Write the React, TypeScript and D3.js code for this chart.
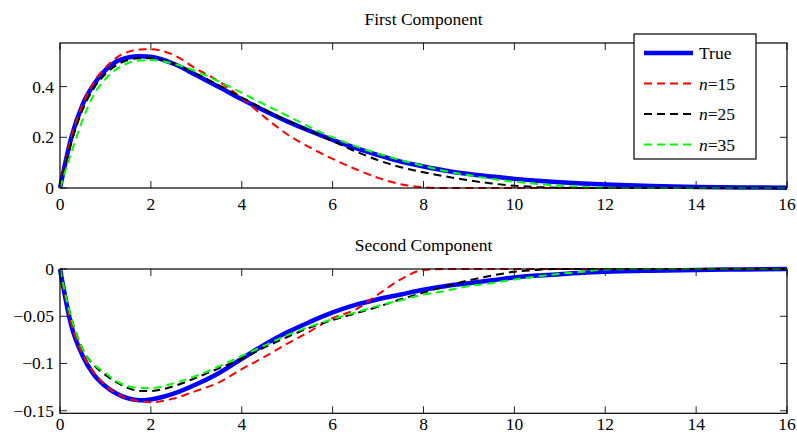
import React, { useEffect, useRef } from "react";
import * as d3 from "d3";

// sample times used for every series
const tGrid = [0, 0.25, 0.5, 0.75, 1, 1.25, 1.5, 1.75, 2, 2.5, 3, 3.5, 4, 4.5, 5, 5.5, 6, 6.5, 7, 7.5, 8, 8.5, 9, 9.5, 10, 10.5, 11, 11.5, 12, 13, 14, 15, 16];

// first component
const firstTrue = [0, 0.2, 0.33, 0.41, 0.465, 0.5, 0.515, 0.52, 0.518, 0.49, 0.445, 0.398, 0.35, 0.305, 0.263, 0.225, 0.19, 0.158, 0.13, 0.104, 0.085, 0.068, 0.055, 0.045, 0.036, 0.029, 0.023, 0.018, 0.014, 0.008, 0.004, 0.002, 0.001];
const firstN15 = [0, 0.2, 0.33, 0.42, 0.475, 0.515, 0.537, 0.546, 0.547, 0.525, 0.47, 0.42, 0.355, 0.28, 0.212, 0.16, 0.115, 0.075, 0.04, 0.015, 0.003, 0, 0, 0, 0, 0, 0, 0, 0, 0, 0, 0, 0];
const firstN25 = [0, 0.18, 0.31, 0.395, 0.45, 0.485, 0.505, 0.512, 0.512, 0.49, 0.45, 0.405, 0.357, 0.31, 0.265, 0.225, 0.185, 0.145, 0.11, 0.082, 0.062, 0.045, 0.03, 0.018, 0.009, 0.004, 0.001, 0, 0, 0, 0, 0, 0];
const firstN35 = [0, 0.14, 0.27, 0.37, 0.43, 0.47, 0.493, 0.503, 0.505, 0.49, 0.46, 0.42, 0.375, 0.33, 0.285, 0.24, 0.2, 0.165, 0.135, 0.11, 0.087, 0.066, 0.05, 0.036, 0.025, 0.016, 0.009, 0.004, 0.001, 0, 0, 0, 0];

// second component
const secondTrue = [0, -0.06, -0.092, -0.112, -0.124, -0.132, -0.137, -0.139, -0.138, -0.132, -0.122, -0.11, -0.095, -0.08, -0.067, -0.056, -0.046, -0.038, -0.032, -0.027, -0.022, -0.018, -0.015, -0.012, -0.009, -0.007, -0.0055, -0.004, -0.003, -0.0018, -0.001, -0.0005, 0];
const secondN15 = [0, -0.058, -0.09, -0.11, -0.123, -0.132, -0.137, -0.14, -0.141, -0.137, -0.129, -0.12, -0.106, -0.093, -0.079, -0.066, -0.052, -0.043, -0.027, -0.011, -0.001, 0, 0, 0, 0, 0, 0, 0, 0, 0, 0, 0, 0];
const secondN25 = [0, -0.052, -0.085, -0.102, -0.112, -0.12, -0.126, -0.129, -0.129, -0.124, -0.115, -0.105, -0.095, -0.083, -0.072, -0.062, -0.054, -0.047, -0.04, -0.032, -0.025, -0.018, -0.012, -0.007, -0.003, -0.001, 0, 0, 0, 0, 0, 0, 0];
const secondN35 = [0, -0.052, -0.085, -0.101, -0.11, -0.119, -0.124, -0.126, -0.126, -0.121, -0.113, -0.103, -0.092, -0.081, -0.07, -0.061, -0.053, -0.046, -0.039, -0.033, -0.027, -0.023, -0.018, -0.015, -0.011, -0.008, -0.005, -0.003, -0.0005, 0, 0, 0, 0];

const xTicks = [0, 2, 4, 6, 8, 10, 12, 14, 16];
const firstYTicks = [0, 0.2, 0.4];
const secondYTicks = [0, -0.05, -0.1, -0.15];
const seriesNames = ["True", "15", "25", "35"];
const seriesColors = ["#0000ff", "#ff0000", "#000000", "#00ff00"];

const font = "'Liberation Serif', 'Times New Roman', serif";
const fontSize = 17.5;

export default function App() {
  const ref = useRef<SVGSVGElement>(null);

  useEffect(() => {
    const svg = d3.select(ref.current);
    svg.selectAll("*").remove();

    const left = 60, right = 787;
    const x = d3.scaleLinear().domain([0, 16]).range([left, right]);

    const panels = [
      { title: "First Component", titleY: 25, top: 43, bottom: 188, domain: [0, 0.572], ticks: firstYTicks, series: [firstTrue, firstN15, firstN25, firstN35], fmt: (v: number) => (v === 0 ? "0" : String(v)) },
      { title: "Second Component", titleY: 251, top: 269, bottom: 413.3, domain: [-0.1527, 0], ticks: secondYTicks, series: [secondTrue, secondN15, secondN25, secondN35], fmt: (v: number) => (v === 0 ? "0" : "\u2212" + String(Math.abs(v))) },
    ];

    panels.forEach(p => {
      const y = d3.scaleLinear().domain(p.domain).range([p.bottom, p.top]);
      const g = svg.append("g").attr("font-family", font).attr("font-size", fontSize);

      g.append("text")
        .attr("x", (left + right) / 2)
        .attr("y", p.titleY)
        .attr("text-anchor", "middle")
        .text(p.title);

      // x ticks, inward on bottom and top
      xTicks.forEach(t => {
        g.append("line").attr("x1", x(t)).attr("x2", x(t)).attr("y1", p.bottom).attr("y2", p.bottom - 7).attr("stroke", "#222");
        g.append("line").attr("x1", x(t)).attr("x2", x(t)).attr("y1", p.top).attr("y2", p.top + 7).attr("stroke", "#222");
        g.append("text")
          .attr("x", x(t))
          .attr("y", Math.min(p.bottom + 22, 430))
          .attr("text-anchor", "middle")
          .text(String(t));
      });

      p.ticks.forEach(v => {
        g.append("line").attr("x1", left).attr("x2", left + 7).attr("y1", y(v)).attr("y2", y(v)).attr("stroke", "#222");
        g.append("line").attr("x1", right).attr("x2", right - 7).attr("y1", y(v)).attr("y2", y(v)).attr("stroke", "#222");
        g.append("text")
          .attr("x", left - 6)
          .attr("y", y(v) + 6)
          .attr("text-anchor", "end")
          .text(p.fmt(v));
      });

      const line = d3.line<number>()
        .x((d, i) => x(tGrid[i]))
        .y(d => y(d))
        .curve(d3.curveMonotoneX);

      p.series.forEach((s, k) => {
        g.append("path")
          .attr("d", line(s))
          .attr("fill", "none")
          .attr("stroke", seriesColors[k])
          .attr("stroke-width", k === 0 ? 4.5 : 2)
          .attr("stroke-dasharray", k === 0 ? null : "8,5");
      });

      g.append("rect")
        .attr("x", left)
        .attr("y", p.top)
        .attr("width", right - left)
        .attr("height", p.bottom - p.top)
        .attr("fill", "none")
        .attr("stroke", "#000")
        .attr("stroke-width", 1.2);
    });

    // legend
    const lg = svg.append("g").attr("font-family", font).attr("font-size", fontSize);
    lg.append("rect")
      .attr("x", 634).attr("y", 34).attr("width", 122).attr("height", 125)
      .attr("fill", "#fff").attr("stroke", "#000").attr("stroke-width", 1.2);
    seriesNames.forEach((name, k) => {
      const ly = 53 + k * 30.5;
      lg.append("line")
        .attr("x1", 644).attr("x2", 693).attr("y1", ly).attr("y2", ly)
        .attr("stroke", seriesColors[k])
        .attr("stroke-width", k === 0 ? 4.5 : 2)
        .attr("stroke-dasharray", k === 0 ? null : "8,5");
      const txt = lg.append("text")
        .attr("x", 699).attr("y", ly + 6);
      if (k === 0) {
        txt.text(name);
      } else {
        txt.append("tspan").attr("font-style", "italic").text("n");
        txt.append("tspan").text("=" + name);
      }
    });
  }, []);

  return (
    <svg ref={ref} width={797} height={434}
      style={{ position: "absolute", left: 0, top: 0, background: "#fff" }} />
  );
}
